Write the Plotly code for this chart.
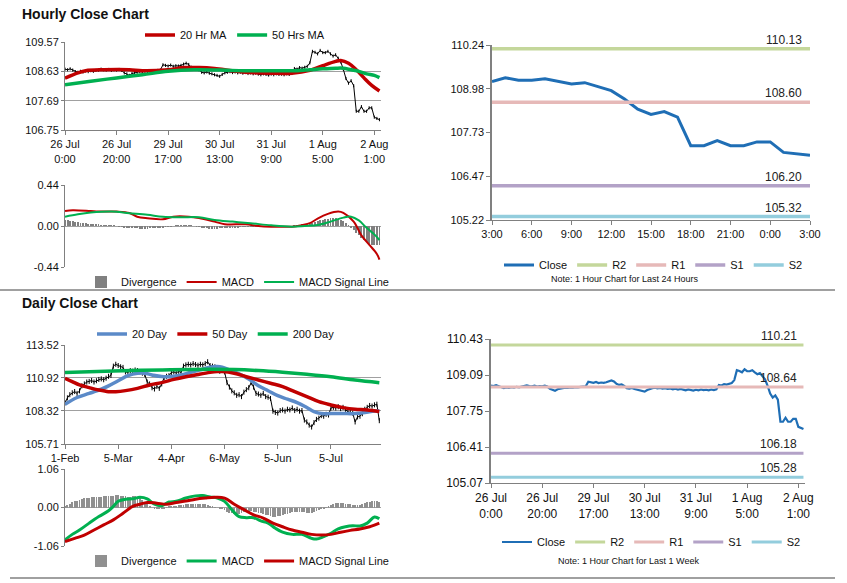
import plotly.graph_objects as go

W, H = 847, 583

# ---- hourly data, one value per hourly bar (26 Jul 0:00 .. 2 Aug 3:00) ----
close_h = [
    108.70, 108.68, 108.71, 108.67,
    108.62, 108.60, 108.63, 108.61, 108.64, 108.62, 108.65, 108.63, 108.66,
    108.67, 108.70, 108.68, 108.67, 108.69, 108.66, 108.68, 108.67, 108.69, 108.66,
    108.58, 108.55, 108.50, 108.56, 108.59,
    108.60, 108.62, 108.61, 108.63, 108.62, 108.64, 108.63, 108.65, 108.66, 108.67,
    108.84, 108.82, 108.80, 108.83, 108.79, 108.81, 108.80, 108.82,
    108.86, 108.89, 108.85,
    108.76, 108.72, 108.74, 108.68,
    108.60, 108.58, 108.61, 108.57,
    108.55, 108.52, 108.50, 108.47, 108.53, 108.58,
    108.60, 108.62, 108.59, 108.61, 108.58, 108.60, 108.57, 108.59, 108.56, 108.58, 108.55, 108.57,
    108.54, 108.52, 108.55, 108.53, 108.51, 108.54, 108.52, 108.55, 108.53, 108.54, 108.52, 108.55, 108.53, 108.56,
    108.72, 108.70, 108.75, 108.73, 108.76,
    108.79, 108.90, 109.27, 109.24,
    109.19, 109.30, 109.23, 109.23, 109.27, 109.19, 109.12, 109.16, 109.05, 108.93,
    108.69, 108.40, 108.25, 108.33, 108.17, 107.35, 107.35, 107.50, 107.35, 107.35,
    107.46, 107.46, 107.16, 107.12, 107.08,
]
hour_ticks = [0, 20, 40, 60, 80, 100, 120]
hour_tick_text = ["26 Jul<br>0:00", "26 Jul<br>20:00", "29 Jul<br>17:00", "30 Jul<br>13:00",
                  "31 Jul<br>9:00", "1 Aug<br>5:00", "2 Aug<br>1:00"]

ma20_h_x = [0, 5, 8, 15, 25, 30, 40, 46, 52, 58, 64, 70, 80, 88, 95, 100, 105, 107, 110, 113, 116, 119, 122]
ma20_h = [108.41, 108.58, 108.65, 108.68, 108.68, 108.65, 108.68, 108.75, 108.75, 108.72, 108.66, 108.60,
          108.57, 108.57, 108.66, 108.81, 108.95, 108.98, 108.89, 108.68, 108.42, 108.18, 108.00]
ma50_h_x = [0, 10, 20, 30, 40, 50, 60, 70, 80, 90, 95, 100, 105, 108, 111, 114, 117, 120, 122]
ma50_h = [108.20, 108.31, 108.42, 108.52, 108.63, 108.68, 108.67, 108.65, 108.65, 108.65, 108.68, 108.71,
          108.73, 108.73, 108.68, 108.63, 108.55, 108.50, 108.43]

macd_h_x = [0, 3, 10, 13, 20, 25, 28, 32, 38, 42, 48, 52, 58, 62, 70, 75, 80, 88, 92, 95, 98, 102, 106, 108,
            112, 115, 118, 121, 122]
macd_h = [0.16, 0.17, 0.16, 0.155, 0.155, 0.14, 0.10, 0.083, 0.072, 0.10, 0.10, 0.085, 0.047, 0.02, 0.018,
          0.0, -0.007, -0.007, 0.01, 0.03, 0.08, 0.13, 0.155, 0.14, 0.047, -0.10, -0.20, -0.30, -0.36]
signal_h_x = [0, 5, 10, 18, 25, 32, 38, 45, 52, 58, 65, 72, 80, 88, 93, 98, 103, 108, 111, 114, 117, 120, 122]
signal_h = [0.10, 0.126, 0.144, 0.155, 0.137, 0.12, 0.10, 0.094, 0.094, 0.065, 0.047, 0.03, 0.007, -0.007,
            0.0, 0.01, 0.047, 0.09, 0.10, 0.06, -0.02, -0.09, -0.15]
div_h = [
    0.06, 0.06, 0.055, 0.05, 0.045, 0.04,
    0.035, 0.03, 0.028, 0.025, 0.02, 0.018, 0.015,
    0.012, 0.01, 0.008, 0.006, 0.005, 0.003, 0.002, 0.0, -0.003,
    -0.008, -0.012, -0.015, -0.018, -0.02, -0.022, -0.025, -0.027, -0.028, -0.028, -0.027, -0.025, -0.022,
    -0.02, -0.018, -0.015, -0.012, -0.008, -0.005,
    -0.002, 0.0, 0.002, 0.004, 0.005, 0.006, 0.006, 0.005, 0.003, 0.0,
    -0.005, -0.01, -0.015, -0.02, -0.024, -0.027, -0.03, -0.03, -0.028, -0.026, -0.024, -0.022, -0.02,
    -0.018, -0.016,
    -0.014, -0.012, -0.01, -0.009, -0.008, -0.007, -0.006, -0.005, -0.004, -0.003, -0.002,
    -0.002, -0.001, 0, 0, 0, 0, 0.001, 0, 0, -0.001, 0, 0, 0.002, 0.004,
    0.008, 0.012, 0.016, 0.02, 0.025, 0.035, 0.045, 0.055, 0.062,
    0.068, 0.074, 0.078, 0.082, 0.085, 0.082, 0.076, 0.066, 0.05,
    0.03, 0.005, -0.02, -0.045, -0.07, -0.10, -0.13, -0.155, -0.175, -0.19, -0.2, -0.205, -0.205, -0.2,
]

# last 24 hours of the hourly close
close_24h = close_h[-25:]
hours_24_text = ["3:00", "6:00", "9:00", "12:00", "15:00", "18:00", "21:00", "0:00", "3:00"]

level_names = ["R2", "R1", "S1", "S2"]
levels_24h = [110.13, 108.60, 106.20, 105.32]
levels_1w = [110.21, 108.64, 106.18, 105.28]
level_colors = ["#c4d79b", "#e6b9b8", "#b3a2c7", "#93cddd"]

# ---- daily data, one value per trading day (1 Feb .. 1 Aug) ----
close_d = [
    108.95, 109.35, 109.60, 109.75, 109.85, 109.70, 109.90, 110.30, 110.45, 110.60,
    110.65, 110.72, 110.60, 110.70, 110.80, 110.85, 110.78, 110.90, 111.05, 111.12,
    111.85, 112.00, 111.90, 111.80, 111.75, 111.40, 111.35, 111.50, 111.45, 111.55,
    111.50, 111.40, 111.30, 111.20, 110.60, 110.45, 110.15, 110.05, 110.25, 110.10,
    110.45, 110.95, 111.05, 111.10, 111.35, 111.40, 111.30, 111.45, 111.35, 111.85,
    111.95, 112.00, 111.95, 112.05, 111.98, 111.92, 112.00, 111.95, 112.05, 112.20,
    111.90, 111.85, 111.80, 111.55, 111.45, 111.55, 111.40, 110.55, 110.20, 109.90,
    109.75, 109.55, 109.60, 109.45, 109.80, 110.00, 110.15, 110.55, 110.20, 109.70,
    109.65, 109.55, 109.70, 109.45, 109.40, 109.30, 108.30, 108.20, 108.15, 108.35,
    108.40, 108.30, 108.45, 108.40, 108.55, 108.35, 108.45, 108.30, 108.35, 107.60,
    107.45, 107.20, 107.05, 107.40, 107.65, 107.75, 107.95, 107.90, 108.05, 108.00,
    108.55, 108.60, 108.55, 108.65, 108.50, 108.60, 108.45, 108.25, 108.20, 108.15,
    107.45, 107.85, 107.90, 108.10, 108.45, 108.60, 108.75, 108.70, 108.80, 108.85,
    107.55,
]
day_ticks = [0, 22, 44, 66, 88, 110]
day_tick_text = ["1-Feb", "5-Mar", "4-Apr", "6-May", "5-Jun", "5-Jul"]

ma20_d_x = [0, 5, 10, 15, 18, 22, 26, 30, 33, 36, 40, 44, 48, 52, 56, 60, 63, 65, 68, 72, 76, 80, 84, 88,
            92, 96, 100, 103, 106, 110, 115, 120, 124, 128, 130]
ma20_d = [108.85, 109.38, 109.70, 110.04, 110.30, 110.70, 111.10, 111.29, 111.29, 111.16, 111.03, 111.03,
          111.16, 111.37, 111.56, 111.77, 111.82, 111.77, 111.56, 111.24, 110.84, 110.31, 109.91, 109.52,
          109.25, 108.98, 108.59, 108.27, 108.11, 108.11, 108.11, 108.11, 108.19, 108.32, 108.32]
ma50_d_x = [0, 3, 6, 10, 14, 18, 21, 25, 30, 35, 40, 45, 50, 55, 60, 63, 65, 70, 75, 80, 85, 90, 95, 100,
            105, 110, 115, 120, 125, 130]
ma50_d = [110.90, 110.63, 110.37, 110.16, 109.97, 109.84, 109.84, 109.92, 110.10, 110.37, 110.55, 110.81,
          111.02, 111.20, 111.36, 111.42, 111.42, 111.29, 111.02, 110.76, 110.50, 110.24, 109.84, 109.45,
          109.05, 108.79, 108.58, 108.45, 108.40, 108.27]
ma200_d_x = [0, 20, 40, 60, 70, 80, 90, 100, 110, 120, 130]
ma200_d = [111.36, 111.47, 111.55, 111.60, 111.58, 111.50, 111.37, 111.21, 111.02, 110.76, 110.55]

macd_d_x = [0, 3, 6, 10, 14, 18, 20, 22, 25, 28, 31, 34, 37, 40, 43, 46, 50, 54, 57, 60, 63, 66, 69, 72,
            75, 78, 81, 84, 87, 90, 94, 98, 102, 104, 107, 110, 113, 116, 119, 122, 125, 128, 130]
macd_d = [-0.89, -0.74, -0.62, -0.43, -0.25, -0.09, 0.03, 0.17, 0.23, 0.24, 0.28, 0.24, 0.09, 0.05, 0.15,
          0.17, 0.26, 0.32, 0.33, 0.29, 0.26, 0.17, -0.06, -0.25, -0.28, -0.28, -0.37, -0.43, -0.57, -0.68,
          -0.74, -0.74, -0.85, -0.87, -0.80, -0.71, -0.59, -0.53, -0.50, -0.51, -0.43, -0.26, -0.31]
signal_d_x = [0, 4, 8, 12, 16, 20, 24, 28, 31, 34, 38, 42, 46, 50, 54, 58, 62, 66, 70, 74, 78, 82, 86, 90,
              94, 98, 102, 106, 110, 114, 118, 122, 126, 130]
signal_d = [-0.94, -0.85, -0.76, -0.62, -0.48, -0.34, -0.16, 0.03, 0.09, 0.14, 0.12, 0.09, 0.14, 0.18,
            0.23, 0.26, 0.28, 0.26, 0.09, -0.06, -0.20, -0.29, -0.43, -0.53, -0.62, -0.68, -0.74, -0.76,
            -0.74, -0.68, -0.63, -0.59, -0.53, -0.43]
div_d = [
    0.05, 0.08, 0.11,
    0.14, 0.17, 0.19, 0.21, 0.23, 0.25,
    0.26, 0.27, 0.28, 0.29, 0.30, 0.30, 0.30, 0.31, 0.31, 0.32, 0.32,
    0.33, 0.34, 0.34, 0.33, 0.32, 0.31, 0.30, 0.30, 0.31, 0.32, 0.30,
    0.26, 0.2, 0.14, 0.09, 0.04, 0.0, -0.03, -0.05, -0.05, -0.04,
    -0.02, 0.01, 0.03, 0.04, 0.04, 0.05, 0.06, 0.07, 0.08, 0.09,
    0.1, 0.1, 0.11, 0.11, 0.11, 0.1, 0.1, 0.09, 0.07, 0.05,
    0.03, 0.01, 0.0, -0.02, -0.05, -0.08, -0.11, -0.14, -0.16, -0.17,
    -0.18, -0.17, -0.15, -0.13, -0.12, -0.11, -0.1, -0.11, -0.12, -0.14,
    -0.16, -0.18, -0.2, -0.22, -0.24, -0.25, -0.25, -0.24, -0.23, -0.21,
    -0.19, -0.17, -0.15, -0.13, -0.12, -0.11, -0.11, -0.12, -0.13, -0.14,
    -0.15, -0.14, -0.12, -0.1, -0.08, -0.05, -0.02, 0.01, 0.04, 0.07,
    0.1, 0.12, 0.13, 0.13, 0.12, 0.11, 0.1, 0.09, 0.08, 0.07,
    0.07, 0.08, 0.1, 0.12, 0.14, 0.16, 0.17, 0.18, 0.17, 0.16,
]

RED = "#c00000"
GREEN = "#00b050"
GREY = "#808080"
BLUE = "#1f6eb5"
LIGHTBLUE = "#5b8ac8"
FONT = "Liberation Sans, Arial, sans-serif"
NARROW = "Liberation Sans Narrow, Arial Narrow, Liberation Sans, sans-serif"


def fx(p):
    return p / W


def fy(p):
    return 1 - p / H


hx = list(range(len(close_h)))
dx = list(range(len(close_d)))
x24 = list(range(len(close_24h)))

fig = go.Figure()

# panel 1: hourly close with moving averages
fig.add_trace(go.Scatter(x=hx, y=close_h, mode="lines", line=dict(color="black", width=1),
                         error_y=dict(type="constant", value=0.05, thickness=1, width=0, color="black"),
                         showlegend=False, xaxis="x", yaxis="y"))
fig.add_trace(go.Scatter(x=ma20_h_x, y=ma20_h, mode="lines", name="20 Hr MA", line=dict(color=RED, width=3.5, shape="spline"),
                         xaxis="x", yaxis="y", legend="legend"))
fig.add_trace(go.Scatter(x=ma50_h_x, y=ma50_h, mode="lines", name="50 Hrs MA", line=dict(color=GREEN, width=3.5, shape="spline"),
                         xaxis="x", yaxis="y", legend="legend"))

# panel 2: hourly MACD
fig.add_trace(go.Bar(x=hx, y=div_h, name="Divergence", marker=dict(color=GREY, line_width=0), width=0.35,
                     xaxis="x2", yaxis="y2", legend="legend2"))
fig.add_trace(go.Scatter(x=macd_h_x, y=macd_h, mode="lines", name="MACD", line=dict(color=RED, width=2, shape="spline"),
                         xaxis="x2", yaxis="y2", legend="legend2"))
fig.add_trace(go.Scatter(x=signal_h_x, y=signal_h, mode="lines", name="MACD Signal Line",
                         line=dict(color=GREEN, width=2, shape="spline"), xaxis="x2", yaxis="y2", legend="legend2"))

# panel 3: last 24 hours with pivot levels
fig.add_trace(go.Scatter(x=x24, y=close_24h, mode="lines", name="Close", line=dict(color=BLUE, width=3),
                         xaxis="x3", yaxis="y3", legend="legend3"))
for name, val, col in zip(level_names, levels_24h, level_colors):
    fig.add_trace(go.Scatter(x=[x24[0], x24[-1]], y=[val, val], mode="lines", name=name,
                             line=dict(color=col, width=3.5), xaxis="x3", yaxis="y3", legend="legend3"))
    fig.add_annotation(x=x24[-1], y=val, xref="x3", yref="y3", text=f"{val:.2f}", showarrow=False,
                       xanchor="right", yanchor="bottom", xshift=-6, yshift=0,
                       font=dict(family=NARROW, size=12, color="#222"))

# panel 4: daily close with moving averages
fig.add_trace(go.Scatter(x=dx, y=close_d, mode="lines", line=dict(color="black", width=1),
                         error_y=dict(type="constant", value=0.2, thickness=1, width=0, color="black"),
                         showlegend=False, xaxis="x4", yaxis="y4"))
fig.add_trace(go.Scatter(x=ma20_d_x, y=ma20_d, mode="lines", name="20 Day", line=dict(color=LIGHTBLUE, width=3.5, shape="spline"),
                         xaxis="x4", yaxis="y4", legend="legend4"))
fig.add_trace(go.Scatter(x=ma50_d_x, y=ma50_d, mode="lines", name="50 Day", line=dict(color=RED, width=3.5, shape="spline"),
                         xaxis="x4", yaxis="y4", legend="legend4"))
fig.add_trace(go.Scatter(x=ma200_d_x, y=ma200_d, mode="lines", name="200 Day", line=dict(color=GREEN, width=3.5, shape="spline"),
                         xaxis="x4", yaxis="y4", legend="legend4"))

# panel 5: daily MACD
fig.add_trace(go.Bar(x=dx, y=div_d, name="Divergence", marker=dict(color="#909090", line_width=0), width=0.35,
                     xaxis="x5", yaxis="y5", legend="legend5"))
fig.add_trace(go.Scatter(x=macd_d_x, y=macd_d, mode="lines", name="MACD", line=dict(color=GREEN, width=3, shape="spline"),
                         xaxis="x5", yaxis="y5", legend="legend5"))
fig.add_trace(go.Scatter(x=signal_d_x, y=signal_d, mode="lines", name="MACD Signal Line",
                         line=dict(color=RED, width=3, shape="spline"), xaxis="x5", yaxis="y5", legend="legend5"))

# panel 6: last week hourly with pivot levels
fig.add_trace(go.Scatter(x=hx, y=close_h, mode="lines", name="Close", line=dict(color=BLUE, width=2.2),
                         xaxis="x6", yaxis="y6", legend="legend6"))
for name, val, col in zip(level_names, levels_1w, level_colors):
    fig.add_trace(go.Scatter(x=[hx[0], hx[-1]], y=[val, val], mode="lines", name=name,
                             line=dict(color=col, width=3), xaxis="x6", yaxis="y6", legend="legend6"))
    fig.add_annotation(x=hx[-1], y=val, xref="x6", yref="y6", text=f"{val:.2f}", showarrow=False,
                       xanchor="right", yanchor="bottom", xshift=-4, yshift=0,
                       font=dict(family=FONT, size=12, color="#222"))


def grid_y(dom, rng, vals, anchor, text=None):
    return dict(domain=dom, range=rng, anchor=anchor, automargin=False, tickvals=vals,
                ticktext=text or [f"{v:.2f}" for v in vals],
                showgrid=True, gridcolor="#a0a0a0", gridwidth=1, zeroline=False,
                showline=True, linecolor=GREY, ticks="outside", ticklen=3, tickcolor=GREY,
                tickfont=dict(family=FONT, size=11, color="#111"))


def plain_y(dom, rng, vals, anchor, family, size):
    return dict(domain=dom, range=rng, anchor=anchor, automargin=False, tickvals=vals,
                ticktext=[f"{v:.2f}" for v in vals],
                showgrid=False, zeroline=False, showline=True, linecolor=GREY, linewidth=1.5,
                ticks="outside", ticklen=4, tickcolor=GREY,
                tickfont=dict(family=family, size=size, color="#111"))


def x_axis(dom, rng, anchor, vals=None, text=None, family=FONT, size=11, labels=True):
    return dict(domain=dom, range=rng, anchor=anchor, automargin=False, tickvals=vals, ticktext=text,
                showticklabels=labels, showgrid=False, zeroline=False,
                showline=labels, linecolor=GREY, ticks="outside" if labels else "", ticklen=4,
                tickcolor=GREY, tickfont=dict(family=family, size=size, color="#111"))


left = [fx(65), fx(381)]
legend_base = dict(orientation="h", xanchor="left", yanchor="middle", bgcolor="rgba(0,0,0,0)",
                   font=dict(family=FONT, size=11, color="#111"), itemwidth=30)

fig.update_layout(
    width=W, height=H, autosize=False,
    margin=dict(l=0, r=0, t=0, b=0, pad=0, autoexpand=False),
    paper_bgcolor="white", plot_bgcolor="white",
    bargap=0, showlegend=True,
    xaxis=x_axis(left, [0, 122.6], "y", hour_ticks, hour_tick_text),
    yaxis=grid_y([fy(130), fy(42)], [106.75, 109.57], [106.75, 107.69, 108.63, 109.57], "x"),
    xaxis2=x_axis(left, [0, 122.6], "y2", labels=False),
    yaxis2=grid_y([fy(267), fy(185)], [-0.44, 0.44], [-0.44, 0, 0.44], "x2", ["-0.44", "0.00", "0.44"]),
    xaxis3=x_axis([fx(492), fx(810)], [0, 24], "y3", list(range(0, 25, 3)), hours_24_text, NARROW, 11),
    yaxis3=plain_y([fy(220), fy(45)], [105.22, 110.24], [105.22, 106.47, 107.73, 108.98, 110.24], "x3", NARROW, 11),
    xaxis4=x_axis(left, [0, 130.7], "y4", day_ticks, day_tick_text),
    yaxis4=grid_y([fy(444), fy(345)], [105.71, 113.52], [105.71, 108.32, 110.92, 113.52], "x4"),
    xaxis5=x_axis(left, [0, 130.7], "y5", labels=False),
    yaxis5=grid_y([fy(546), fy(469)], [-1.06, 1.06], [-1.06, 0, 1.06], "x5", ["-1.06", "0.00", "1.06"]),
    xaxis6=x_axis([fx(491), fx(805)], [0, 122.6], "y6", hour_ticks, hour_tick_text, FONT, 12),
    yaxis6=plain_y([fy(483), fy(339)], [105.07, 110.43], [105.07, 106.41, 107.75, 109.09, 110.43], "x6", FONT, 12),
    legend=dict(legend_base, x=fx(140), y=fy(35)),
    legend2=dict(legend_base, x=fx(81), y=fy(282)),
    legend3=dict(legend_base, x=fx(499), y=fy(265), font=dict(family=NARROW, size=11, color="#111")),
    legend4=dict(legend_base, x=fx(92), y=fy(334)),
    legend5=dict(legend_base, x=fx(81), y=fy(561)),
    legend6=dict(legend_base, x=fx(497), y=fy(542), font=dict(family=FONT, size=11, color="#111")),
)

fig.add_annotation(x=fx(20), y=fy(14), xref="paper", yref="paper", text="<b>Hourly Close Chart</b>",
                   showarrow=False, xanchor="left", yanchor="middle", font=dict(family=FONT, size=14, color="#111"))
fig.add_annotation(x=fx(20), y=fy(303), xref="paper", yref="paper", text="<b>Daily Close Chart</b>",
                   showarrow=False, xanchor="left", yanchor="middle", font=dict(family=FONT, size=14, color="#111"))
fig.add_annotation(x=fx(625), y=fy(279), xref="paper", yref="paper", text="Note: 1 Hour Chart for Last 24 Hours",
                   showarrow=False, xanchor="center", yanchor="middle", font=dict(family=NARROW, size=9, color="#111"))
fig.add_annotation(x=fx(628), y=fy(561), xref="paper", yref="paper", text="Note: 1 Hour Chart for Last 1 Week",
                   showarrow=False, xanchor="center", yanchor="middle", font=dict(family=NARROW, size=9, color="#111"))

fig.add_shape(type="line", xref="paper", yref="paper", x0=0, x1=fx(835), y0=fy(290), y1=fy(290),
              line=dict(color=GREY, width=1.5))
fig.add_shape(type="line", xref="paper", yref="paper", x0=fx(10), x1=fx(835), y0=fy(578), y1=fy(578),
              line=dict(color=GREY, width=1.5))

# the page's default body margin would push the chart off by 8px
fig.write_html("out.html", config={"displayModeBar": False},
               post_script="document.body.style.margin = '0';")
